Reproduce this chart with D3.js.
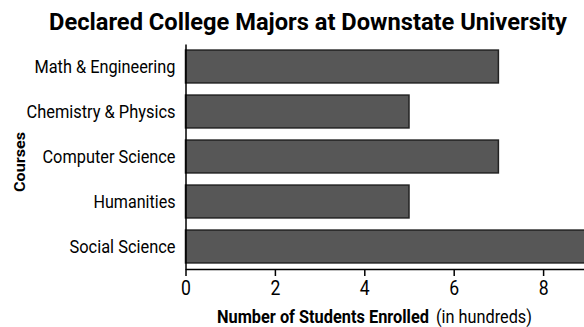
<!DOCTYPE html>
<html>
<head>
<meta charset="utf-8">
<script src="https://cdn.jsdelivr.net/npm/d3@7"></script>
<style>
  body { margin: 0; background: #fff; }
  svg { display: block; overflow: hidden; }
  text { font-family: Roboto, "Noto Sans", sans-serif; fill: #000; }
</style>
</head>
<body>
<div id="chart"></div>
<script>
// data
const courses = ["Math & Engineering", "Chemistry & Physics", "Computer Science", "Humanities", "Social Science"];
const enrolled = [7, 5, 7, 5, 10];
const xTicks = [0, 2, 4, 6, 8];

// measured text widths in the reference (condensed font)
const labelWidths = [141, 149, 133, 82, 106];

const width = 584, height = 327;

const svg = d3.select("#chart")
  .append("svg")
  .attr("width", width)
  .attr("height", height);

const x = d3.scaleLinear()
  .domain([0, 10])
  .range([185.5, 632.5]);

const y = d3.scaleBand()
  .domain(courses)
  .range([44, 269])
  .paddingInner(0.27)
  .paddingOuter(0.135);

const rows = courses.map((c, i) => ({ course: c, value: enrolled[i] }));

// squeeze a text horizontally so it is w pixels wide, placed at (px, py)
function fitText(sel, px, py, w) {
  const natural = sel.node().getComputedTextLength();
  sel.attr("x", 0).attr("y", 0)
    .attr("transform", `translate(${px},${py}) scale(${w / natural},1)`);
}

// bars
svg.append("g")
  .selectAll("rect")
  .data(rows)
  .join("rect")
  .attr("x", x(0))
  .attr("y", d => y(d.course))
  .attr("width", d => x(d.value) - x(0))
  .attr("height", y.bandwidth())
  .attr("fill", "#575757")
  .attr("stroke", "#222")
  .attr("stroke-width", 1.5);

// x axis
const xAxis = svg.append("g")
  .attr("transform", "translate(0,269)")
  .call(d3.axisBottom(x).tickValues(xTicks).tickSize(7).tickSizeOuter(0).tickPadding(5));
xAxis.select(".domain").attr("stroke", "#000").attr("stroke-width", 1.5);
xAxis.selectAll(".tick line").attr("stroke", "#000").attr("stroke-width", 1.5);
xAxis.selectAll(".tick text")
  .attr("font-size", 20)
  .attr("font-family", "Roboto, sans-serif")
  .attr("fill", "#000")
  .attr("transform", "scale(0.88,1)")
  .attr("x", 0);

// y axis
const yAxis = svg.append("g")
  .attr("transform", "translate(185.5,0)")
  .call(d3.axisLeft(y).tickSize(0).tickPadding(10));
yAxis.select(".domain").attr("stroke", "#000").attr("stroke-width", 1.5);
yAxis.selectAll(".tick text")
  .attr("font-size", 18)
  .attr("font-family", "Roboto, sans-serif")
  .attr("fill", "#000")
  .attr("dy", "0.38em")
  .attr("textLength", (d, i) => labelWidths[i])
  .attr("lengthAdjust", "spacingAndGlyphs");

// title
svg.append("text")
  .attr("x", 49)
  .attr("y", 29.5)
  .attr("font-size", 24.5)
  .attr("font-weight", "bold")
  .attr("textLength", 518)
  .attr("lengthAdjust", "spacingAndGlyphs")
  .text("Declared College Majors at Downstate University");

// x axis title (bold part + plain part)
const xt1 = svg.append("text")
  .attr("font-size", 18)
  .attr("font-weight", "bold")
  .text("Number of Students Enrolled");
fitText(xt1, 217, 322.5, 212);
const xt2 = svg.append("text")
  .attr("font-size", 18)
  .text("(in hundreds)");
fitText(xt2, 436, 322.5, 96);

// y axis title
svg.append("text")
  .attr("transform", "translate(25,162) rotate(-90)")
  .attr("text-anchor", "middle")
  .attr("font-size", 15.5)
  .attr("font-weight", "bold")
  .attr("textLength", 60)
  .attr("lengthAdjust", "spacingAndGlyphs")
  .text("Courses");
</script>
</body>
</html>
